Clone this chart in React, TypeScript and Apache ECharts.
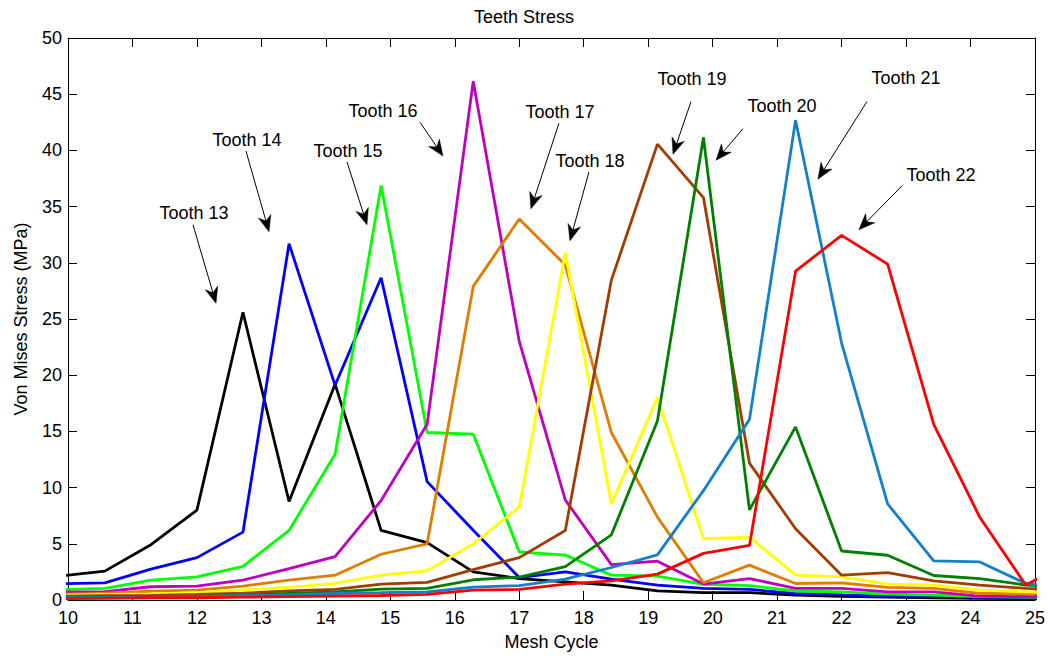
import { useEffect, useRef } from "react";
import * as echarts from "echarts";

// Mesh cycle at which each stress sample was taken
const meshCycle = [
  9.857, 10.571, 11.286, 12.0, 12.714, 13.429, 14.143, 14.857, 15.571, 16.286, 17.0, 17.714,
  18.429, 19.143, 19.857, 20.571, 21.286, 22.0, 22.714, 23.429, 24.143, 24.857, 25.571,
];

// Von Mises stress (MPa) per tooth
const tooth13 = [2.12, 2.57, 4.92, 8.0, 25.6, 8.76, 19.2, 6.2, 5.1, 2.5, 1.91, 1.62, 1.33, 0.82, 0.65, 0.65, 0.44, 0.32, 0.26, 0.2, 0.15, 0.12, 0.1];
const tooth14 = [1.45, 1.53, 2.74, 3.77, 6.04, 31.7, 19.1, 28.67, 10.53, 6.2, 2.0, 2.5, 1.85, 1.33, 1.03, 0.94, 0.58, 0.45, 0.35, 0.3, 0.25, 0.2, 0.15];
const tooth15 = [0.92, 1.03, 1.77, 2.06, 3.0, 6.19, 12.97, 36.87, 14.9, 14.75, 4.27, 4.0, 2.21, 2.12, 1.4, 1.28, 0.8, 0.73, 0.52, 0.44, 0.3, 0.25, 0.2];
const tooth16 = [0.72, 0.75, 1.18, 1.24, 1.77, 2.8, 3.85, 8.85, 15.63, 46.16, 23.0, 8.9, 3.15, 3.45, 1.42, 1.91, 1.03, 1.03, 0.73, 0.73, 0.35, 0.3, 0.25];
const tooth17 = [0.5, 0.62, 0.78, 0.88, 1.24, 1.77, 2.21, 4.07, 5.0, 27.9, 33.9, 29.8, 14.9, 7.37, 1.53, 3.1, 1.47, 1.53, 1.12, 1.03, 0.58, 0.58, 0.5];
const tooth18 = [0.42, 0.5, 0.55, 0.65, 0.9, 1.12, 1.47, 2.21, 2.59, 5.0, 8.26, 30.9, 8.55, 18.0, 5.45, 5.6, 2.21, 2.06, 1.42, 1.33, 0.88, 0.73, 0.65];
const tooth19 = [0.34, 0.38, 0.42, 0.5, 0.6, 0.82, 0.94, 1.42, 1.56, 2.71, 3.77, 6.19, 28.46, 40.56, 35.8, 12.18, 6.34, 2.21, 2.44, 1.71, 1.33, 1.03, 0.9];
const tooth20 = [0.3, 0.3, 0.33, 0.35, 0.42, 0.58, 0.73, 0.97, 1.03, 1.8, 2.03, 2.97, 5.8, 15.93, 41.15, 8.02, 15.4, 4.36, 3.98, 2.18, 1.91, 1.33, 1.1];
const tooth21 = [0.2, 0.22, 0.25, 0.3, 0.38, 0.45, 0.58, 0.65, 0.73, 1.15, 1.28, 1.85, 2.89, 4.02, 9.73, 16.07, 42.68, 22.86, 8.55, 3.48, 3.39, 1.47, 1.0];
const tooth22 = [0.12, 0.15, 0.2, 0.2, 0.25, 0.3, 0.35, 0.4, 0.5, 0.88, 0.94, 1.42, 1.7, 2.3, 4.15, 4.85, 29.26, 32.44, 29.88, 15.63, 7.37, 1.33, 3.5];

const toothNames = ["Tooth 13", "Tooth 14", "Tooth 15", "Tooth 16", "Tooth 17", "Tooth 18", "Tooth 19", "Tooth 20", "Tooth 21", "Tooth 22"];
const toothStress = [tooth13, tooth14, tooth15, tooth16, tooth17, tooth18, tooth19, tooth20, tooth21, tooth22];
const toothColors = ["#000000", "#0000ff", "#00ff00", "#bf00bf", "#de7d00", "#ffff00", "#a33c00", "#008000", "#1480c8", "#ff0000"];

// Annotation text centres, arrow tails and arrow tips (data units)
const labelAt: [number, number][] = [
  [11.954, 34.45], [12.777, 40.91], [14.343, 39.94], [14.886, 43.48], [17.631, 43.39],
  [18.097, 39.05], [19.679, 46.31], [21.075, 43.92], [22.998, 46.4], [23.541, 37.81],
];
const arrowFrom: [number, number][] = [
  [11.939, 33.39], [12.761, 39.94], [14.328, 38.97], [15.46, 42.51], [17.616, 42.42],
  [18.081, 38.08], [19.664, 44.34], [20.47, 41.93], [22.393, 44.34], [22.936, 36.84],
];
const arrowTo: [number, number][] = [
  [12.296, 26.4], [13.118, 32.77], [14.638, 33.39], [15.817, 39.5], [17.181, 34.81],
  [17.787, 31.97], [19.385, 39.65], [20.052, 39.12], [21.633, 37.44], [22.269, 32.95],
];

const FONT = "'Liberation Sans', Arial, Helvetica, sans-serif";

// Arrow: thin shaft plus a filled head with a notched back
function renderArrow(_params: any, api: any) {
  const tail = api.coord([api.value(0), api.value(1)]);
  const tip = api.coord([api.value(2), api.value(3)]);
  const dx = tip[0] - tail[0];
  const dy = tip[1] - tail[1];
  const len = Math.hypot(dx, dy) || 1;
  const ux = dx / len;
  const uy = dy / len;
  const nx = -uy;
  const ny = ux;
  const headLen = 16;
  const halfW = 6.5;
  const notch = 11;
  const back = [tip[0] - ux * headLen, tip[1] - uy * headLen];
  const mid = [tip[0] - ux * notch, tip[1] - uy * notch];
  return {
    type: "group",
    children: [
      {
        type: "line",
        shape: { x1: tail[0], y1: tail[1], x2: mid[0], y2: mid[1] },
        style: { stroke: "#000", lineWidth: 1 },
      },
      {
        type: "polygon",
        shape: {
          points: [
            tip,
            [back[0] + nx * halfW, back[1] + ny * halfW],
            mid,
            [back[0] - nx * halfW, back[1] - ny * halfW],
          ],
        },
        style: { fill: "#000", stroke: "#000", lineWidth: 0.5 },
      },
    ],
  };
}

export default function App() {
  const ref = useRef<HTMLDivElement>(null);

  useEffect(() => {
    if (!ref.current) return;
    const chart = echarts.init(ref.current, undefined, { renderer: "svg" });

    const frameAxis = {
      axisLine: { show: true, onZero: false, lineStyle: { color: "#000", width: 1 } },
      axisTick: { show: true, inside: true, length: 9, lineStyle: { color: "#000" } },
      splitLine: { show: false },
    };

    const lineSeries = toothNames.map((name, s) => ({
      name,
      type: "line",
      data: meshCycle.map((x, i) => [x, toothStress[s][i]]),
      showSymbol: false,
      symbol: "none",
      clip: true,
      lineStyle: { color: toothColors[s], width: 2.8 },
      itemStyle: { color: toothColors[s] },
      z: 2 + s * 0.01,
    }));

    chart.setOption({
      animation: false,
      backgroundColor: "#ffffff",
      textStyle: { fontFamily: FONT },
      title: {
        text: "Teeth Stress",
        left: "center",
        top: 3,
        textStyle: { fontFamily: FONT, fontSize: 18, fontWeight: "normal", color: "#000" },
      },
      grid: { left: 68, right: 13, top: 38, bottom: 53, containLabel: false },
      xAxis: [
        {
          type: "value",
          position: "bottom",
          min: 10,
          max: 25,
          interval: 1,
          name: "Mesh Cycle",
          nameLocation: "middle",
          nameGap: 33,
          nameTextStyle: { fontFamily: FONT, fontSize: 18, color: "#000" },
          axisLabel: { fontFamily: FONT, fontSize: 18, color: "#000", margin: 9 },
          ...frameAxis,
        },
        {
          type: "value",
          position: "top",
          min: 10,
          max: 25,
          interval: 1,
          axisLabel: { show: false },
          ...frameAxis,
        },
      ],
      yAxis: [
        {
          type: "value",
          position: "left",
          min: 0,
          max: 50,
          interval: 5,
          name: "Von Mises Stress (MPa)",
          nameLocation: "middle",
          nameGap: 38,
          nameTextStyle: { fontFamily: FONT, fontSize: 18, color: "#000" },
          axisLabel: { fontFamily: FONT, fontSize: 18, color: "#000", margin: 6 },
          ...frameAxis,
        },
        {
          type: "value",
          position: "right",
          min: 0,
          max: 50,
          interval: 5,
          axisLabel: { show: false },
          ...frameAxis,
        },
      ],
      series: [
        ...lineSeries,
        {
          name: "arrows",
          type: "custom",
          renderItem: renderArrow,
          data: toothNames.map((_, i) => [arrowFrom[i][0], arrowFrom[i][1], arrowTo[i][0], arrowTo[i][1]]),
          encode: { x: [0, 2], y: [1, 3] },
          clip: false,
          silent: true,
          z: 10,
        },
        {
          name: "labels",
          type: "scatter",
          data: toothNames.map((name, i) => ({ name, value: labelAt[i] })),
          symbolSize: 1,
          itemStyle: { color: "rgba(255,255,255,0)", opacity: 1 },
          label: {
            show: true,
            position: "inside",
            formatter: "{b}",
            fontFamily: FONT,
            fontSize: 18,
            color: "#000",
            opacity: 1,
            textBorderWidth: 0,
          },
          silent: true,
          z: 10,
        },
      ],
    });

    return () => chart.dispose();
  }, []);

  return (
    <div
      ref={ref}
      style={{ position: "fixed", left: 0, top: 0, width: "1048px", height: "656px", background: "#fff" }}
    />
  );
}
